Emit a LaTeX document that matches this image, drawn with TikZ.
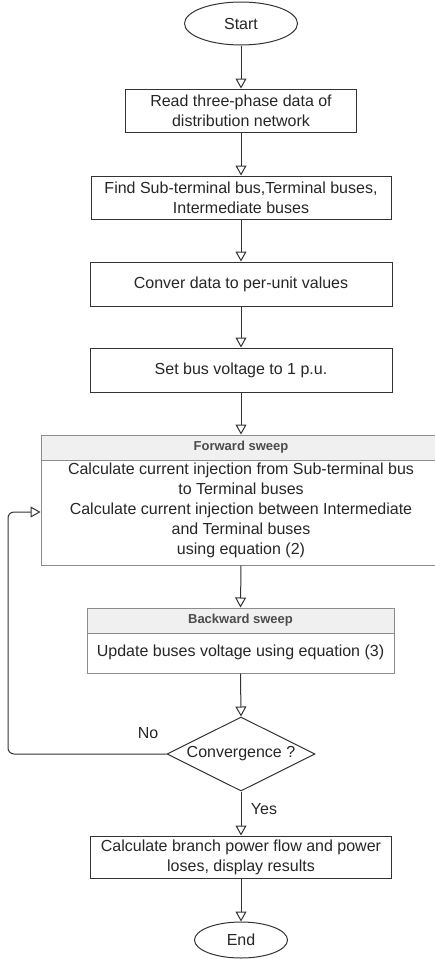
\documentclass[tikz,border=0pt]{standalone}
\usepackage{fontspec}
\setmainfont{Liberation Sans}
\usetikzlibrary{shapes.geometric, arrows.meta}

\begin{document}
\begin{tikzpicture}[x=1pt, y=-1pt, line width=1pt,
        every node/.style={font=\fontsize{16}{20}\selectfont, text=black!85, inner sep=0pt},
        proc/.style={draw=black!80, rectangle, align=center},
        term/.style={draw=black!80, ellipse},
        lane/.style={draw=black!45, rectangle},
        lanehead/.style={lane, fill=black!6, minimum height=25, font=\bfseries\fontsize{13}{15}\selectfont, text=black!70},
        decide/.style={draw=black!80, diamond, aspect=2},
        flow/.style={draw=black!80, -{Triangle[open, width=11pt, length=10pt]}}]
        \useasboundingbox (0,0) rectangle (435,959);
        % main column
        \node[term, minimum width=113, minimum height=43] (start) at (241,23.5) {Start};
        \node[proc, minimum width=231, minimum height=43] (read) at (241,110.5) {Read three-phase data of\\distribution network};
        \node[proc, minimum width=300, minimum height=43] (find) at (241,197.5) {Find Sub-terminal bus,Terminal buses,\\Intermediate buses};
        \node[proc, minimum width=302, minimum height=44] (perunit) at (241,284) {Conver data to per-unit values};
        \node[proc, minimum width=302, minimum height=44] (flat) at (241,370) {Set bus voltage to 1 p.u.};
        % forward sweep lane
        \node[lane, minimum width=400, minimum height=130] (fwd) at (241,500) {};
        \node[lanehead, minimum width=400] (fwdhead) at (241,447.5) {Forward sweep};
        \node[align=center] (fwdtext) at (241,510) {Calculate current injection from Sub-terminal bus\\to Terminal buses\\Calculate current injection between Intermediate\\and Terminal buses\\using equation (2)};
        % backward sweep lane
        \node[lane, minimum width=307, minimum height=65] (bwd) at (240.5,640.5) {};
        \node[lanehead, minimum width=307] (bwdhead) at (240.5,620.5) {Backward sweep};
        \node (bwdtext) at (240.5,652) {Update buses voltage using equation (3)};
        \node[decide, minimum width=148, minimum height=74] (conv) at (241,754) {Convergence ?};
        \node[proc, minimum width=301, minimum height=42] (result) at (241,857) {Calculate branch power flow and power\\loses, display results};
        \node[term, minimum width=93, minimum height=36] (end) at (241,940) {End};
        \node (no) at (148,733) {No};
        \node (yes) at (264,809) {Yes};
        \coordinate (loop) at (8,512);
        % connectors
        \draw[flow] (start.south) -- (read.north);
        \draw[flow] (read.south) -- (find.north);
        \draw[flow] (find.south) -- (perunit.north);
        \draw[flow] (perunit.south) -- (flat.north);
        \draw[flow] (flat.south) -- (fwd.north);
        \draw[flow] (fwd.south) -- (bwd.north);
        \draw[flow] (bwd.south) -- (conv.north);
        \draw[flow] (conv.south) -- (result.north);
        \draw[flow] (result.south) -- (end.north);
        \draw[flow, rounded corners=6] (conv.west) -| (loop) -- (loop -| fwd.west);
\end{tikzpicture}
\end{document}
